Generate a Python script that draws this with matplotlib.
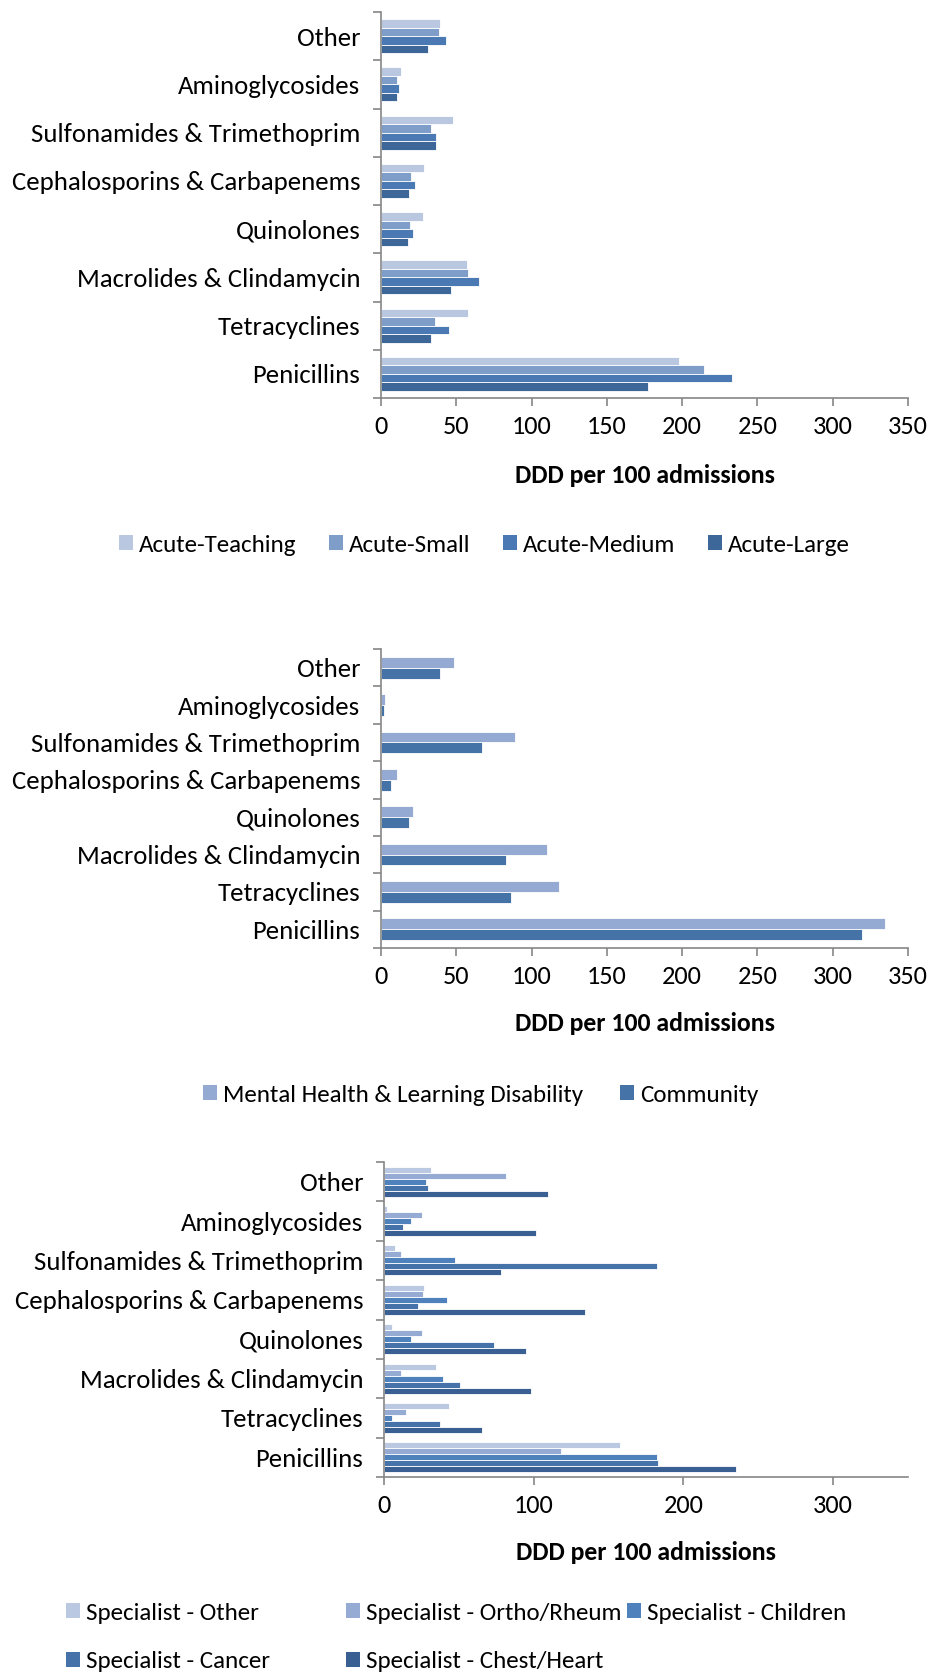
import matplotlib
matplotlib.use('Agg')
import matplotlib.pyplot as plt
from matplotlib.patches import Patch
from matplotlib import font_manager
import numpy as np

# pick a Calibri-like font if there is one
available = {f.name for f in font_manager.fontManager.ttflist}
font_name = 'Carlito' if 'Carlito' in available else 'Lato'
plt.rcParams['font.family'] = [font_name, 'DejaVu Sans']

# Data, categories listed bottom to top
categories = ['Penicillins', 'Tetracyclines', 'Macrolides & Clindamycin', 'Quinolones',
              'Cephalosporins & Carbapenems', 'Sulfonamides & Trimethoprim',
              'Aminoglycosides', 'Other']

acute_labels = ['Acute-Teaching', 'Acute-Small', 'Acute-Medium', 'Acute-Large']
acute_teaching = [197.7, 58.1, 56.9, 28.0, 28.7, 47.6, 13.1, 39.2]
acute_small = [214.7, 35.6, 58.1, 19.1, 20.1, 33.0, 10.8, 38.3]
acute_medium = [232.8, 45.2, 64.8, 21.0, 22.7, 36.3, 11.7, 43.3]
acute_large = [177.1, 33.0, 46.6, 17.7, 18.6, 36.3, 10.8, 31.3]
acute_colors = ['#b9c7e1', '#7f9dc9', '#4a79b4', '#3d6699']

mh_labels = ['Mental Health & Learning Disability', 'Community']
mental_health = [334.9, 118.1, 110.2, 21.0, 10.5, 88.7, 2.9, 48.5]
community = [319.6, 86.3, 82.7, 18.4, 6.5, 67.4, 2.2, 39.2]
mh_colors = ['#94aad3', '#4573a8']

spec_labels = ['Specialist - Other', 'Specialist - Ortho/Rheum', 'Specialist - Children',
               'Specialist - Cancer', 'Specialist - Chest/Heart']
spec_other = [157.4, 43.3, 34.7, 5.3, 27.0, 7.2, 1.7, 31.1]
spec_ortho = [117.9, 14.8, 11.2, 25.1, 26.1, 11.2, 25.1, 81.8]
spec_children = [182.1, 5.3, 39.7, 18.2, 42.3, 47.6, 18.2, 27.8]
spec_cancer = [183.0, 37.3, 51.0, 73.4, 22.7, 182.3, 12.4, 29.7]
spec_chest = [235.4, 65.6, 98.1, 94.7, 134.2, 78.2, 101.4, 109.3]
spec_colors = ['#bac8e2', '#95abd4', '#4f81bd', '#4672aa', '#3a5f92']

W, H = 930, 1680
AXIS_GREY = '#868686'
CAT_SIZE = 19.3
TICK_SIZE = 19
LEG_SIZE = 18
XLAB_SIZE = 18.5


def rect(left, top, right, bottom):
    return [left / W, 1 - bottom / H, (right - left) / W, (bottom - top) / H]


def draw_panel(ax, series, colors, group_width, xticks, label_y):
    n = len(series)
    h = group_width / n
    y = np.arange(len(categories))
    for k, (vals, col) in enumerate(zip(series, colors)):
        off = (n - 1) / 2 * h - k * h
        ax.barh(y + off, vals, height=h, color=col, edgecolor='white', linewidth=0.6)
    ax.set_xlim(0, 350)
    ax.set_ylim(-0.5, len(categories) - 0.5)
    ax.set_yticks(y)
    ax.set_yticklabels(categories, fontsize=CAT_SIZE)
    ax.set_yticks(np.arange(-0.5, len(categories)), minor=True)
    ax.tick_params(axis='y', which='major', length=0, pad=15)
    ax.tick_params(axis='y', which='minor', length=6, width=1.2, color=AXIS_GREY)
    ax.set_xticks(xticks)
    ax.tick_params(axis='x', length=6, width=1.2, color=AXIS_GREY, labelsize=TICK_SIZE, pad=6)
    for s in ['top', 'right']:
        ax.spines[s].set_visible(False)
    for s in ['left', 'bottom']:
        ax.spines[s].set_color(AXIS_GREY)
        ax.spines[s].set_linewidth(1.2)
    ax.set_xlabel('DDD per 100 admissions', fontsize=XLAB_SIZE, fontweight='bold', va='center')
    ax.xaxis.set_label_coords(0.5, label_y)


def legend_entry(fig, label, color, x, y):
    fig.legend(handles=[Patch(facecolor=color, edgecolor='none')], labels=[label],
               loc='center left', bbox_to_anchor=(x / W, 1 - y / H), frameon=False,
               handlelength=0.55, handleheight=0.55, handletextpad=0.25,
               borderpad=0, borderaxespad=0, fontsize=LEG_SIZE)


fig = plt.figure(figsize=(9.3, 16.8), dpi=100)

ax1 = fig.add_axes(rect(381, 12, 908, 398))
draw_panel(ax1, [acute_teaching, acute_small, acute_medium, acute_large], acute_colors,
           0.70, np.arange(0, 351, 50), -0.1995)
for lab, col, x in zip(acute_labels, acute_colors, [119, 329, 503, 708]):
    legend_entry(fig, lab, col, x, 545)

ax2 = fig.add_axes(rect(381, 649, 908, 948))
draw_panel(ax2, [mental_health, community], mh_colors, 0.58, np.arange(0, 351, 50), -0.251)
for lab, col, x in zip(mh_labels, mh_colors, [203, 620]):
    legend_entry(fig, lab, col, x, 1095)

ax3 = fig.add_axes(rect(384, 1162, 908, 1477))
draw_panel(ax3, [spec_other, spec_ortho, spec_children, spec_cancer, spec_chest], spec_colors,
           0.76, [0, 100, 200, 300], -0.241)
spec_pos = [(66, 1613), (346, 1613), (627, 1613), (66, 1662), (346, 1662)]
for lab, col, (x, yy) in zip(spec_labels, spec_colors, spec_pos):
    legend_entry(fig, lab, col, x, yy)

fig.savefig('out.png', dpi=100, facecolor='white')
